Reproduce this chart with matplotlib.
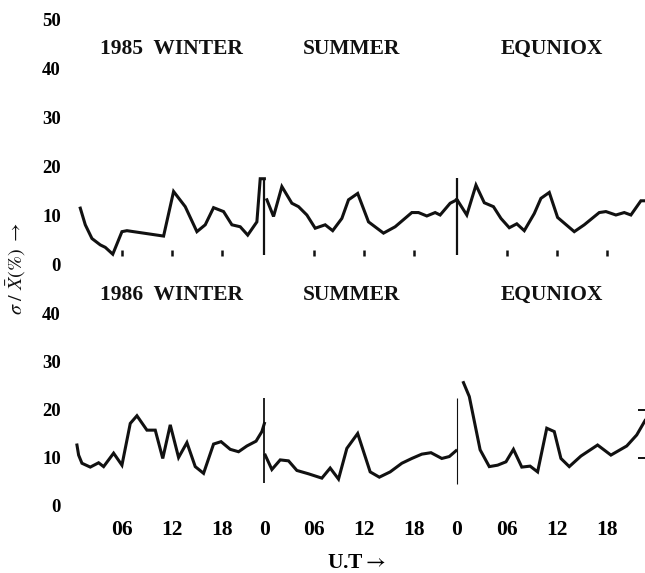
"""
Diurnal variation of sigma / mean (%) at each UT hour, for the three seasons
of 1985 (upper panel) and 1986 (lower panel).
"""
import matplotlib
matplotlib.use("Agg")
import matplotlib.pyplot as plt

plt.rcParams.update({
    "font.family": "serif",
    "font.serif": ["Liberation Serif", "DejaVu Serif"],
    "mathtext.fontset": "stix",
})

_INK = "#111111"
_SEASON_SPAN = 23.1          # hours between successive season origins on the UT axis
_SEASONS = ["WINTER", "SUMMER", "EQUNIOX"]

# ---- 1985 -------------------------------------------------------------------
w85_hours = [1.0, 1.6, 2.4, 3.4, 4.0, 4.9, 6.0, 6.6, 11.0, 12.2, 13.6, 15.0, 16.0,
             17.0, 18.2, 19.2, 20.2, 21.1, 22.2, 22.6, 23.1]
w85_vals = [11.6, 8.2, 5.4, 4.1, 3.6, 2.2, 6.8, 7.0, 5.9, 15.0, 11.9, 6.8, 8.2,
            11.7, 10.9, 8.2, 7.8, 6.1, 8.8, 17.6, 17.6]
s85_hours = [0.3, 1.1, 2.1, 3.3, 4.1, 5.1, 6.1, 7.3, 8.2, 9.3, 10.1, 11.2, 12.5,
             14.3, 15.7, 17.7, 18.5, 19.5, 20.5, 21.1, 22.3, 23.1]
s85_vals = [13.3, 9.9, 16.0, 12.6, 11.9, 10.2, 7.5, 8.2, 7.0, 9.5, 13.3, 14.6, 8.8,
            6.5, 7.8, 10.7, 10.7, 10.0, 10.7, 10.2, 12.6, 13.3]
e85_hours = [0.0, 1.2, 2.3, 3.3, 4.4, 5.3, 6.3, 7.2, 8.1, 9.3, 10.1, 11.1, 12.1,
             14.1, 15.3, 17.1, 17.9, 19.1, 20.1, 20.9, 22.1, 22.6]
e85_vals = [13.4, 10.2, 16.3, 12.7, 11.9, 9.5, 7.6, 8.4, 7.0, 10.5, 13.6, 14.8, 9.7,
            6.8, 8.2, 10.7, 10.9, 10.2, 10.7, 10.2, 13.1, 13.1]

# ---- 1986 -------------------------------------------------------------------
w86_hours = [0.6, 0.8, 1.2, 2.2, 3.2, 3.8, 5.0, 6.0, 7.0, 7.8, 9.0, 10.0, 10.9,
             11.8, 12.8, 13.8, 14.8, 15.8, 17.0, 17.9, 19.0, 20.0, 21.0, 22.1,
             22.8, 23.1]
w86_vals = [12.7, 10.6, 8.9, 8.1, 9.0, 8.2, 11.0, 8.5, 17.2, 18.8, 15.8, 15.8, 9.9,
            16.9, 10.1, 13.2, 8.2, 6.8, 12.9, 13.4, 11.8, 11.3, 12.5, 13.5,
            15.5, 17.2]
s86_hours = [0.1, 0.9, 1.9, 2.9, 3.9, 5.3, 6.9, 7.9, 8.9, 9.9, 11.2, 12.7, 13.8,
             15.1, 16.5, 17.7, 18.9, 20.0, 21.3, 22.2, 23.0]
s86_vals = [10.6, 7.6, 9.6, 9.4, 7.4, 6.7, 5.8, 7.9, 5.6, 12.0, 15.1, 7.1, 6.0,
            7.1, 8.9, 9.9, 10.8, 11.1, 9.9, 10.3, 11.5]
e86_hours = [0.8, 1.5, 2.8, 3.9, 4.9, 5.9, 6.8, 7.8, 8.8, 9.7, 10.8, 11.7, 12.5,
             13.5, 14.9, 16.9, 18.5, 20.4, 21.6, 22.6]
e86_vals = [25.7, 22.8, 11.7, 8.2, 8.5, 9.2, 11.8, 8.1, 8.3, 7.1, 16.2, 15.5, 9.9,
            8.2, 10.4, 12.7, 10.6, 12.5, 14.8, 17.8]

# season separators (bottom value, top value) and tick hours
div85 = [(2.0, 17.8), (2.0, 17.8)]
div86 = [(4.8, 22.5), (4.6, 22.5)]
div86_lw = [1.3, 0.8]
tick_hours = [6, 12, 18]
tick_labels = ["06", "12", "18"]
yticks85 = [0, 10, 20, 30, 40, 50]
yticks86 = [0, 10, 20, 30, 40]

# where the season names sit (local hour of the centre, value)
title_hours = [12.0, 10.4, 11.4]
title_val = 44


def ut(season_idx, hours):
    return [season_idx * _SEASON_SPAN + h for h in hours]


def style_axes(ax, yticks, ylim):
    for sp in ax.spines.values():
        sp.set_visible(False)
    ax.set_xlim(-0.5, 3 * _SEASON_SPAN - 0.5)
    ax.set_ylim(*ylim)
    ax.set_yticks(yticks)
    ax.set_yticklabels([str(t) for t in yticks], fontsize=13.5, fontweight="bold")
    ax.tick_params(axis="y", length=0, pad=5)
    ax.tick_params(axis="x", length=0)


fig = plt.figure(figsize=(6.45, 5.73), dpi=100)
ax_top = fig.add_axes([0.1051, 0.529, 0.895, 0.4447])
ax_bot = fig.add_axes([0.1051, 0.1086, 0.895, 0.3518])

# ---- upper panel (1985) ----
style_axes(ax_top, yticks85, (-1, 51))
ax_top.set_xticks([])
for i, (h, v) in enumerate([(w85_hours, w85_vals), (s85_hours, s85_vals),
                            (e85_hours, e85_vals)]):
    ax_top.plot(ut(i, h), v, color=_INK, lw=2.2, solid_joinstyle="miter")
    ax_top.vlines(ut(i, tick_hours), 1.9, 3.1, color=_INK, lw=1.8)
for i, (lo, hi) in enumerate(div85):
    ax_top.vlines((i + 1) * _SEASON_SPAN, lo, hi, color=_INK, lw=1.6)
for i, name in enumerate(_SEASONS):
    label = f"1985  {name}" if i == 0 else name
    ax_top.text(ut(i, [title_hours[i]])[0], title_val, label, ha="center",
                va="center", fontsize=15.5, fontweight="bold", color=_INK)

# ---- lower panel (1986) ----
style_axes(ax_bot, yticks86, (-1, 41))
xt, xl = [], []
for i in range(3):
    xt += ut(i, tick_hours)
    xl += tick_labels
    if i < 2:
        xt.append((i + 1) * _SEASON_SPAN)
        xl.append("0")
ax_bot.set_xticks(xt)
ax_bot.set_xticklabels(xl, fontsize=15.5, fontweight="bold")
ax_bot.tick_params(axis="x", pad=7)
for i, (h, v) in enumerate([(w86_hours, w86_vals), (s86_hours, s86_vals),
                            (e86_hours, e86_vals)]):
    ax_bot.plot(ut(i, h), v, color=_INK, lw=2.2, solid_joinstyle="miter")
for i, (lo, hi) in enumerate(div86):
    ax_bot.vlines((i + 1) * _SEASON_SPAN, lo, hi, color=_INK, lw=div86_lw[i])
for i, name in enumerate(_SEASONS):
    label = f"1986  {name}" if i == 0 else name
    ax_bot.text(ut(i, [title_hours[i]])[0], title_val, label, ha="center",
                va="center", fontsize=15.5, fontweight="bold", color=_INK)

# small right-hand marks at 10 and 20
sec = ax_bot.secondary_yaxis("right")
sec.set_yticks([10, 20])
sec.set_yticklabels([])
sec.tick_params(length=5, width=1.4, direction="in", color=_INK)
sec.spines["right"].set_visible(False)

ax_bot.set_xlabel(r"U.T$\rightarrow$", fontsize=15.5, fontweight="bold", labelpad=9)

fig.text(16 / 645, 1 - 268 / 573, r"$\sigma\ /\ \bar{X}(\%)\ \rightarrow$",
         rotation=90, ha="center", va="center", fontsize=14.5, color=_INK)

fig.savefig("out.png", dpi=100, facecolor="white")
